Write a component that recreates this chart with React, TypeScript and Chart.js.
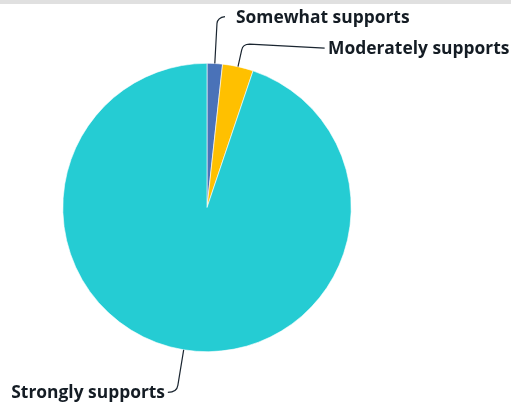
import React, { useEffect, useRef } from "react";
import { Chart, registerables } from "chart.js";

Chart.register(...registerables);

const categories = ["Somewhat supports", "Moderately supports", "Strongly supports"];
const values = [1, 2, 55];
const colors = ["#4A72B8", "#FFC000", "#25CCD3"];

// label layout: radial leader length, curve control/end offsets, text position
const labelLayout = [
  { len: 40, ctrl: [0.5, -6], end: [8, -7], line: null as null | number[], text: [236, 22.5], align: "left" },
  { len: 17, ctrl: [1, -6], end: [8, -6], line: [75, 4], text: [328, 54], align: "left" },
  { len: 36, ctrl: [-1, 7], end: [-10, 7], line: null as null | number[], text: [165, 398], align: "right" },
];

const leaderPlugin = {
  id: "leaders",
  afterDatasetsDraw(chart: any) {
    const ctx = chart.ctx;
    const meta = chart.getDatasetMeta(0);
    ctx.save();
    meta.data.forEach((arc: any, i: number) => {
      const { x, y, startAngle, endAngle, outerRadius } = arc.getProps(
        ["x", "y", "startAngle", "endAngle", "outerRadius"],
        true
      );
      const mid = (startAngle + endAngle) / 2;
      const L = labelLayout[i];
      const sx = x + Math.cos(mid) * outerRadius;
      const sy = y + Math.sin(mid) * outerRadius;
      const px = sx + Math.cos(mid) * L.len;
      const py = sy + Math.sin(mid) * L.len;
      ctx.beginPath();
      ctx.strokeStyle = "#1a2530";
      ctx.lineWidth = 1.2;
      ctx.moveTo(sx, sy);
      ctx.lineTo(px, py);
      const ex = px + L.end[0];
      const ey = py + L.end[1];
      ctx.quadraticCurveTo(px + L.ctrl[0], py + L.ctrl[1], ex, ey);
      if (L.line) ctx.lineTo(ex + L.line[0], ey + L.line[1]);
      ctx.stroke();
      ctx.font = "bold 17.4px 'Open Sans'";
      ctx.fillStyle = "#141c24";
      ctx.textAlign = L.align as CanvasTextAlign;
      ctx.textBaseline = "alphabetic";
      ctx.fillText(categories[i], L.text[0], L.text[1]);
    });
    ctx.restore();
  },
};

export default function App() {
  const ref = useRef<HTMLCanvasElement>(null);
  useEffect(() => {
    const chart = new Chart(ref.current!, {
      type: "pie",
      data: {
        labels: categories,
        datasets: [
          {
            data: values,
            backgroundColor: colors,
            borderColor: "#ffffff",
            borderWidth: 0.6,
          },
        ],
      },
      options: {
        animation: false,
        responsive: false,
        layout: { padding: { top: 63, bottom: 54, left: 62, right: 159 } },
        plugins: { legend: { display: false }, tooltip: { enabled: false } },
      },
      plugins: [leaderPlugin],
    });
    return () => chart.destroy();
  }, []);
  return (
    <div style={{ position: "fixed", left: 0, top: 0, width: 511, height: 406, background: "#fff" }}>
      <div style={{ position: "absolute", left: 0, top: 0, width: 511, height: 4, background: "#e0e0e0" }} />
      <canvas ref={ref} width={511} height={406} style={{ display: "block" }} />
    </div>
  );
}
